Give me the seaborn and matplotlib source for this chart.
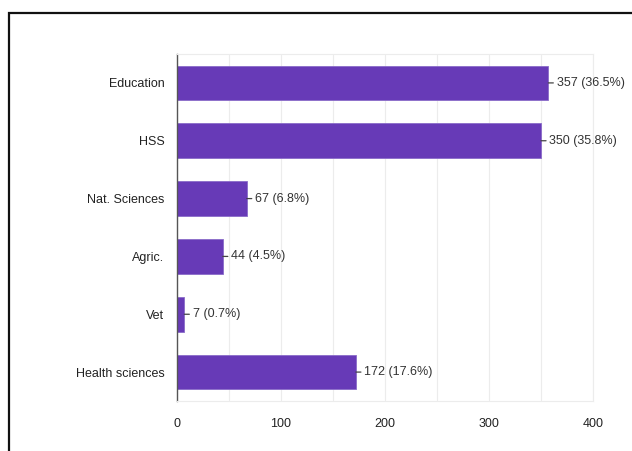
import matplotlib
matplotlib.use("Agg")
import matplotlib.pyplot as plt
import seaborn as sns
import pandas as pd
from matplotlib.patches import Rectangle

# DATA

faculties = ["Education", "HSS", "Nat. Sciences", "Agric.", "Vet", "Health sciences"]
counts = [357, 350, 67, 44, 7, 172]
percents = [36.5, 35.8, 6.8, 4.5, 0.7, 17.6]
x_ticks = [0, 100, 200, 300, 400]

df = pd.DataFrame({"Faculty": faculties, "Count": counts, "Pct": percents})

# STYLE

sns.set_theme(style="white")
plt.rcParams["font.family"] = ["Liberation Sans", "DejaVu Sans"]

fig = plt.figure(figsize=(6.32, 4.51), dpi=100)
ax = fig.add_axes([177 / 632, 1 - 401 / 451, (593 - 177) / 632, (401 - 54) / 451])

sns.barplot(
    data=df,
    x="Count",
    y="Faculty",
    color="#673ab7",
    saturation=1,
    width=0.6,
    edgecolor="#8a6bc9",
    linewidth=0.6,
    ax=ax
)

# grid every 50
ax.set_xlim(0, 400)
ax.set_xticks(x_ticks)
ax.set_xticks(range(50, 400, 100), minor=True)
ax.grid(axis="x", which="both", color="#ececec", linewidth=0.8)
ax.set_axisbelow(True)

for side in ["top", "right", "bottom"]:
    ax.spines[side].set_color("#ececec")
    ax.spines[side].set_linewidth(0.8)
ax.spines["left"].set_color("#555555")
ax.spines["left"].set_linewidth(1.0)

ax.tick_params(axis="both", which="both", length=0, labelsize=9, colors="#222222")
ax.tick_params(axis="y", pad=9)
ax.tick_params(axis="x", pad=12)
ax.set_xlabel("")
ax.set_ylabel("")

# VALUE LABELS

for i, (c, p) in enumerate(zip(counts, percents)):
    ax.annotate(
        f"{c} ({p}%)",
        xy=(c, i),
        xytext=(6, 0),
        textcoords="offset points",
        va="center",
        ha="left",
        fontsize=9,
        color="#333333",
        arrowprops=dict(arrowstyle="-", color="#444444", lw=0.9,
                        shrinkA=0, shrinkB=0, relpos=(0, 0.5))
    )

# outer frame
fig.patches.append(Rectangle((9 / 632, -0.1), 1.2, 0.1 + 1 - 13 / 451,
                             transform=fig.transFigure, fill=False,
                             edgecolor="#111111", linewidth=1.6))

fig.savefig("out.png", dpi=100)
